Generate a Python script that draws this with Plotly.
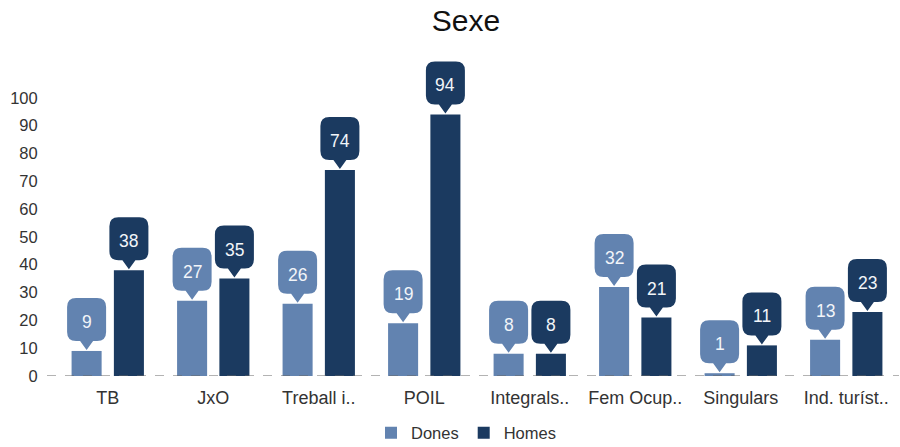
import plotly.graph_objects as go

categories = ["TB", "JxO", "Treball i..", "POIL", "Integrals..", "Fem Ocup..", "Singulars", "Ind. turíst.."]
dones = [9, 27, 26, 19, 8, 32, 1, 13]
homes = [38, 35, 74, 94, 8, 21, 11, 23]
series_names = ["Dones", "Homes"]
y_ticks = list(range(0, 101, 10))

LIGHT = "#6283b0"
DARK = "#1b3a60"
FONT = "Liberation Sans, Arial, sans-serif"

BARGAP = 0.198
GROUPGAP = 0.29
slot = (1 - BARGAP) / 2
offsets = [-slot / 2, slot / 2]

ML, MR, MT, MB = 55, 1, 56, 71
PH = 447 - MT - MB
PW = 900 - ML - MR

fig = go.Figure()
for name, vals, col in [(series_names[0], dones, LIGHT), (series_names[1], homes, DARK)]:
    fig.add_trace(go.Bar(x=categories, y=vals, name=name, marker=dict(color=col, line=dict(width=0))))

# callout geometry (pixels, relative to bar top)
g, h, H, w, b, r = 1, 9, 43, 19.5, 6.5, 9
base = g + h
top = base + H
path = (f"M 0,{g} L {-b},{base} L {-w+r},{base} Q {-w},{base} {-w},{base+r} "
        f"L {-w},{top-r} Q {-w},{top} {-w+r},{top} L {w-r},{top} Q {w},{top} {w},{top-r} "
        f"L {w},{base+r} Q {w},{base} {w-r},{base} L {b},{base} Z")

shapes = []
annotations = []
for si, (vals, col) in enumerate([(dones, LIGHT), (homes, DARK)]):
    for ci, v in enumerate(vals):
        xa = ci + offsets[si]
        shapes.append(dict(type="path", xref="x", yref="y", xsizemode="pixel", ysizemode="pixel",
                           xanchor=xa, yanchor=v, path=path, fillcolor=col, line=dict(width=0),
                           layer="above"))
        annotations.append(dict(x=xa, y=v, xref="x", yref="y", text=str(v), showarrow=False,
                                yshift=g + 28, font=dict(family=FONT, size=17.5, color="#f2f5f9")))

shapes.append(dict(type="line", xref="paper", yref="y", x0=-8 / PW, x1=1, y0=0, y1=0,
                   line=dict(color="#666666", width=1, dash="dash"), layer="above"))

fig.update_layout(
    width=900, height=447,
    margin=dict(l=ML, r=MR, t=MT, b=MB, autoexpand=False),
    paper_bgcolor="white", plot_bgcolor="white",
    barmode="group", bargap=BARGAP, bargroupgap=GROUPGAP,
    font=dict(family=FONT, color="#333333"),
    title=dict(text="Sexe", x=466 / 900, xref="container", xanchor="center",
               y=1 - 20 / 447, yref="container", yanchor="middle",
               font=dict(family=FONT, size=30, color="#111111")),
    xaxis=dict(showgrid=False, showline=False, zeroline=False, ticks="outside", ticklen=5,
               tickcolor="rgba(0,0,0,0)", tickfont=dict(size=18, color="#333333"),
               range=[-0.5, len(categories) - 0.5], automargin=False, fixedrange=True),
    yaxis=dict(range=[0, 115], tickvals=y_ticks, showgrid=False, showline=False, zeroline=False,
               ticks="outside", ticklen=13, tickcolor="rgba(0,0,0,0)",
               tickfont=dict(size=16.5, color="#333333"), automargin=False, fixedrange=True),
    legend=dict(orientation="h", x=(466 - ML) / PW, xanchor="center",
                y=-(433 - (447 - MB)) / PH, yanchor="middle",
                font=dict(size=16.5, color="#333333"), itemwidth=30),
    shapes=shapes, annotations=annotations,
    showlegend=True,
)

fig.write_html("out.html", config={"displayModeBar": False},
               post_script="document.body.style.margin='0';document.body.style.overflow='hidden';")
